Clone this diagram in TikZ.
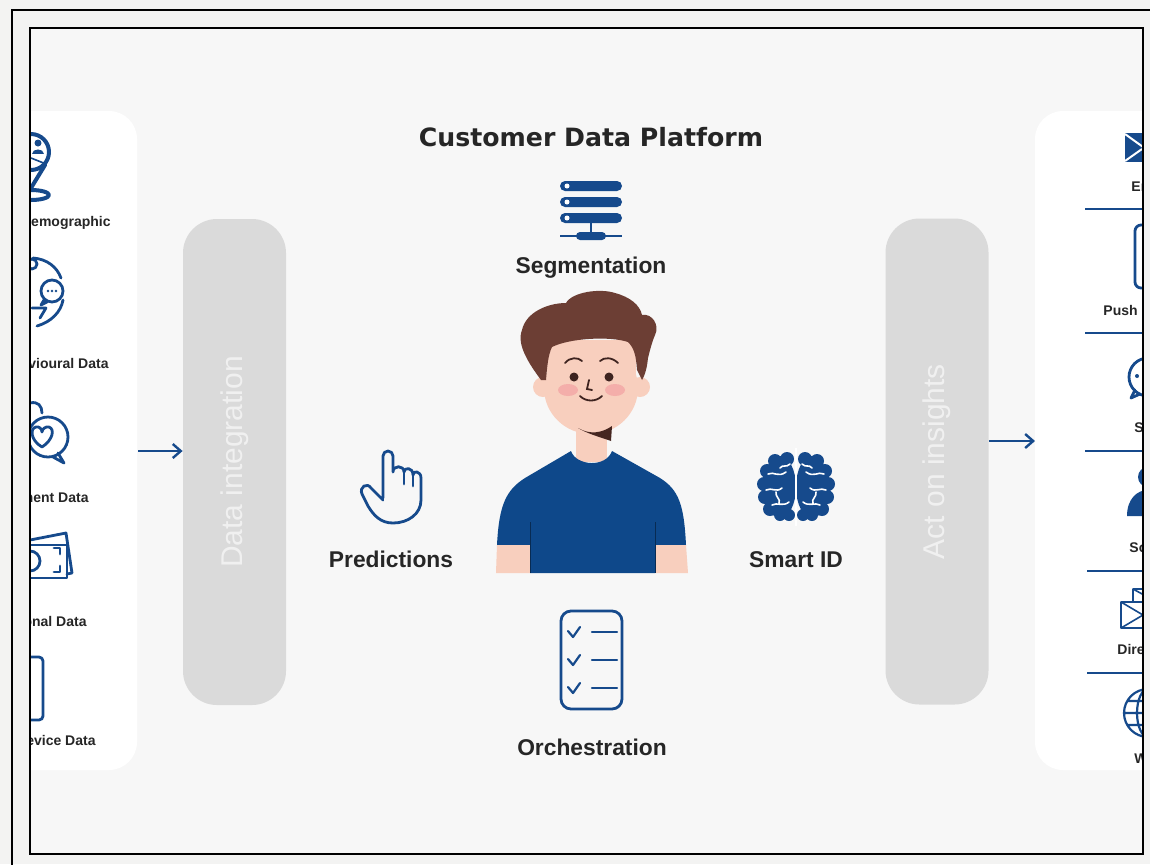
\documentclass[tikz,border=0pt]{standalone}
\usepackage{fontspec}
\setmainfont{Liberation Sans}
\newfontfamily\headfont{DejaVu Sans}
\usetikzlibrary{positioning, arrows.meta}

\definecolor{cdpblue}{RGB}{22,74,140}
\definecolor{pagegray}{RGB}{243,243,242}
\definecolor{boardgray}{RGB}{247,247,247}
\definecolor{pillgray}{RGB}{218,218,218}
\definecolor{pillink}{RGB}{240,240,240}
\definecolor{inkgray}{RGB}{38,38,38}
\definecolor{skin}{RGB}{248,207,190}
\definecolor{hair}{RGB}{108,62,52}
\definecolor{chinshade}{RGB}{70,38,32}
\definecolor{shirt}{RGB}{14,72,138}
\definecolor{blush}{RGB}{244,174,170}
\definecolor{eyes}{RGB}{62,36,32}

\tikzset{
  pill/.style={fill=pillgray, rounded corners=17pt, minimum width=51.5pt,
    minimum height=243pt, inner sep=0pt},
  pilllabel/.style={rotate=90, text=pillink, font=\fontsize{15}{18}\selectfont},
  headline/.style={text=inkgray, font=\headfont\bfseries\fontsize{12.6}{15}\selectfont,
    inner sep=0pt},
  bigtag/.style={text=inkgray, font=\bfseries\fontsize{11.4}{13}\selectfont, inner sep=0pt},
  smalltag/.style={text=inkgray, font=\bfseries\fontsize{7}{8.5}\selectfont, inner sep=0pt},
  iconline/.style={draw=cdpblue, line width=1.4pt, line cap=round, line join=round},
  thinicon/.style={iconline, line width=0.8pt},
  flow/.style={draw=cdpblue, line width=1.2pt, -{Straight Barb[length=4pt,width=7pt]}},
  divider/.style={draw=cdpblue, line width=0.8pt},
}

\begin{document}
\begin{tikzpicture}[x=0.5pt, y=-0.5pt]
\useasboundingbox (0,0) rectangle (1150,864);
\begin{scope}
\clip (0,0) rectangle (1150,864);
\fill[pagegray] (0,0) rectangle (1150,864);
\fill[boardgray] (30,28) rectangle (1143,854);

\begin{scope}
\clip (30,28) rectangle (1143,854);

% side panels
\fill[white, rounded corners=14pt] (-100,111) rectangle (137,770);
\fill[white, rounded corners=14pt] (1035,111) rectangle (1300,770);

% sources
\draw[iconline, line width=2pt] (31,152) circle[radius=18];
\draw[iconline, line width=2pt] (45,165) -- (31,188);
\draw[iconline, line width=2pt] (31,195) ellipse[x radius=18, y radius=5];
\fill[cdpblue] (38,143) circle[radius=3.5];
\fill[cdpblue] (32,154) .. controls (32,148) and (44,148) .. (44,154) -- cycle;
\draw[thinicon] (31,158) -- (46,164);

\draw[iconline] (33,258) .. controls (47,259) and (57,267) .. (61,278);
\draw[iconline] (63,300) .. controls (61,312) and (51,322) .. (37,326);
\draw[iconline] (52,291) circle[radius=11];
\draw[iconline] (44,300) -- (41,305) -- (47,302);
\fill[cdpblue] (48,291) circle[radius=1.4] (52,291) circle[radius=1.4] (56,291) circle[radius=1.4];
\draw[iconline] (32,264) circle[radius=5];
\draw[iconline] (32,308) -- (46,308) -- (40,318);

\draw[iconline] (48,437) circle[radius=20];
\draw[iconline] (58,453) -- (64,463) -- (53,457);
\draw[iconline] (42,447) .. controls (30,440) and (30,428) .. (36,427)
  .. controls (39,426) and (42,429) .. (42,432)
  .. controls (42,429) and (46,426) .. (49,427)
  .. controls (55,429) and (53,440) .. (42,447);
\draw[iconline] (30,403) .. controls (38,401) and (42,406) .. (42,413);

\draw[iconline] (30,540) -- (66,533) -- (72,573) -- (67,574);
\draw[iconline] (10,545) rectangle (67,578);
\draw[iconline] (30,561) circle[radius=10];
\draw[iconline] (54,548) -- (60,548) -- (60,554) (60,566) -- (60,572) -- (54,572);

\draw[iconline, rounded corners=2pt] (0,657) rectangle (43,720);

\node[smalltag, anchor=base east] (demo) at (111,226) {Demographic};
\node[smalltag, anchor=base east] (behav) at (109,368) {Behavioural Data};
\node[smalltag, anchor=base east] (engage) at (89,502) {Engagement Data};
\node[smalltag, anchor=base east] (trans) at (87,626) {Transactional Data};
\node[smalltag, anchor=base east] (device) at (96,745) {Device Data};

% channels
\foreach \yy/\xx in {209/1085,333/1085,451/1085,571/1087,673/1087}
  \draw[divider] (\xx,\yy) -- (1200,\yy);

\fill[cdpblue] (1125,133) rectangle (1175,162);
\draw[white, line width=1pt] (1125,134) -- (1150,152) -- (1175,134) (1125,161) -- (1142,149);
\draw[iconline, rounded corners=3pt] (1135,225) rectangle (1165,288);
\draw[iconline] (1148,377) circle[radius=19];
\draw[iconline] (1135,390) -- (1131,398) -- (1140,394);
\fill[cdpblue] (1137,376) circle[radius=2] (1147,376) circle[radius=2];
\fill[cdpblue] (1148,477) circle[radius=10]
  (1127,516) .. controls (1127,499) and (1137,490) .. (1148,490)
  .. controls (1159,490) and (1169,499) .. (1169,516) -- cycle;
\draw[thinicon] (1121,602) rectangle (1165,628) (1121,602) -- (1165,628) (1121,628) -- (1165,602)
  (1133,602) -- (1133,589) -- (1177,589) (1133,589) -- (1155,601);
\draw[iconline, line width=1.1pt] (1148,713) circle[radius=24]
  (1148,713) ellipse[x radius=11, y radius=24]
  (1124,713) -- (1172,713) (1128,701) -- (1168,701) (1128,725) -- (1168,725);

\foreach \xx/\yy/\tag/\nm in {1131/191/Email/email, 1103/315/Push Notification/push,
    1134/432/SMS/sms, 1129/552/Social/social, 1117/654/Direct Mail/mail, 1134/763/Web/web}
  \node[smalltag, anchor=base west] (\nm) at (\xx,\yy) {\tag};

% the two stages
\node[pill] (integ) at (234.5,462) {};
\node[pilllabel] (integtag) at (integ) {Data integration};
\node[pill] (act) at (937,461.5) {};
\node[pilllabel] (acttag) at (act) {Act on insights};

\coordinate (srcout) at (138,451);
\coordinate (chanin) at (1035,441);
\draw[flow] (srcout) -- (srcout -| integ.west);
\draw[flow] (act.east |- chanin) -- (chanin);

% platform
\node[headline, anchor=base] (title) at (591,146) {Customer Data Platform};

\fill[cdpblue, rounded corners=2.5pt] (560,181) rectangle (622,191)
  (560,197) rectangle (622,207) (560,213) rectangle (622,223);
\fill[white] (567,186) circle[radius=2.5] (567,202) circle[radius=2.5] (567,218) circle[radius=2.5];
\draw[cdpblue, line width=1.2pt] (591,223) -- (591,233);
\draw[cdpblue, line width=1pt] (560,236) -- (622,236);
\fill[cdpblue, rounded corners=2pt] (576,232) rectangle (606,240);
\node[bigtag, anchor=base] (segtag) at (591,273) {Segmentation};

\draw[iconline] (383,498) -- (383,456) arc[start angle=180, end angle=360, radius=5]
  -- (393,472) .. controls (393,465) and (404,465) .. (404,472)
  .. controls (404,467) and (413,467) .. (413,475)
  .. controls (413,470) and (421,471) .. (421,478) -- (421,500)
  .. controls (421,514) and (408,523) .. (393,523)
  .. controls (381,523) and (374,516) .. (368,506) -- (362,494)
  .. controls (359,487) and (367,482) .. (371,488) -- (383,500);
\draw[iconline] (404,472) -- (404,484) (413,475) -- (413,486);
\node[bigtag, anchor=base] (predtag) at (391,567) {Predictions};

% brain, one lobe cluster per side
\foreach \sx/\ox in {1/0,-1/1592} {
  \fill[cdpblue] (\ox+\sx*780,487) ellipse[x radius=16, y radius=31]
    (\ox+\sx*787,459) circle[radius=7] (\ox+\sx*775,461) circle[radius=7]
    (\ox+\sx*767,471) circle[radius=7] (\ox+\sx*764,484) circle[radius=7]
    (\ox+\sx*765,497) circle[radius=7] (\ox+\sx*770,509) circle[radius=7]
    (\ox+\sx*780,515) circle[radius=6] (\ox+\sx*789,515) circle[radius=6];
  \draw[white, line width=0.8pt, line cap=round]
    (\ox+\sx*768,474) .. controls (\ox+\sx*774,471) and (\ox+\sx*778,478) .. (\ox+\sx*786,472)
    (\ox+\sx*766,490) .. controls (\ox+\sx*772,487) and (\ox+\sx*776,493) .. (\ox+\sx*782,488)
    (\ox+\sx*776,492) .. controls (\ox+\sx*775,497) and (\ox+\sx*781,499) .. (\ox+\sx*779,503)
    (\ox+\sx*772,505) .. controls (\ox+\sx*777,502) and (\ox+\sx*783,507) .. (\ox+\sx*789,502)
    (\ox+\sx*790,464) .. controls (\ox+\sx*786,468) and (\ox+\sx*783,464) .. (\ox+\sx*780,468);
}
\draw[white, line width=1pt] (796,448) -- (796,526);
\node[bigtag, anchor=base] (smarttag) at (796,567) {Smart ID};

\draw[iconline, rounded corners=5pt] (561,611) rectangle (622,709);
\foreach \yy in {632,660,688} {
  \draw[iconline, line width=1.1pt] (568,\yy-1) -- (573,\yy+5) -- (580,\yy-5);
  \draw[iconline, line width=1.1pt] (592,\yy) -- (617,\yy);
}
\node[bigtag, anchor=base] (orchtag) at (592,755) {Orchestration};

% customer
\fill[skin] (576,418) rectangle (607,462);
\fill[shirt] (497,545) .. controls (499,505) and (506,490) .. (525,478) -- (571,451)
  .. controls (576,466) and (606,468) .. (612,451) -- (660,478)
  .. controls (679,490) and (684,505) .. (686,545) -- (655,545) -- (655,573)
  -- (530,573) -- (530,545) -- cycle;
\fill[skin] (497,545) -- (530,545) -- (530,573) -- (496,573) -- cycle;
\fill[skin] (655,545) -- (686,545) -- (688,573) -- (655,573) -- cycle;
\draw[shirt!60!black, line width=0.5pt] (530,522) -- (530,573) (655,522) -- (655,573);
\fill[skin] (543,387) circle[radius=10] (640,387) circle[radius=10];
\fill[skin] (591,388) ellipse[x radius=47, y radius=46];
\fill[skin] (547,340) rectangle (636,390);
\fill[chinshade] (578,428) .. controls (590,435) and (602,433) .. (612,426)
  -- (611,441) .. controls (600,437) and (588,434) .. cycle;
\fill[hair] (541,380) .. controls (530,365) and (516,345) .. (522,330)
  .. controls (526,312) and (548,303) .. (566,303)
  .. controls (572,292) and (600,288) .. (615,293)
  .. controls (630,297) and (640,305) .. (642,315)
  .. controls (652,313) and (660,325) .. (655,335)
  .. controls (652,342) and (650,350) .. (648,358)
  .. controls (647,368) and (645,375) .. (642,380) -- (637,370)
  .. controls (636,355) and (634,348) .. (628,342)
  .. controls (610,336) and (570,338) .. (552,347)
  .. controls (548,355) and (547,368) .. (546,380) -- cycle;
\fill[blush] (568,390) ellipse[x radius=10, y radius=6] (615,390) ellipse[x radius=10, y radius=6];
\fill[eyes] (574,377) circle[radius=4.5] (609,377) circle[radius=4.5];
\draw[eyes, line width=0.9pt, line cap=round]
  (565,363) .. controls (570,357) and (578,357) .. (582,361)
  (600,361) .. controls (604,357) and (612,357) .. (618,363)
  (589,380) -- (587,389) -- (592,390)
  (580,396) .. controls (586,402) and (596,402) .. (602,396);
\end{scope}

% frames
\draw[line width=1.2pt] (12,10) rectangle (1180,900);
\draw[line width=1.2pt] (30,28) rectangle (1143,854);
\end{scope}
\end{tikzpicture}
\end{document}
